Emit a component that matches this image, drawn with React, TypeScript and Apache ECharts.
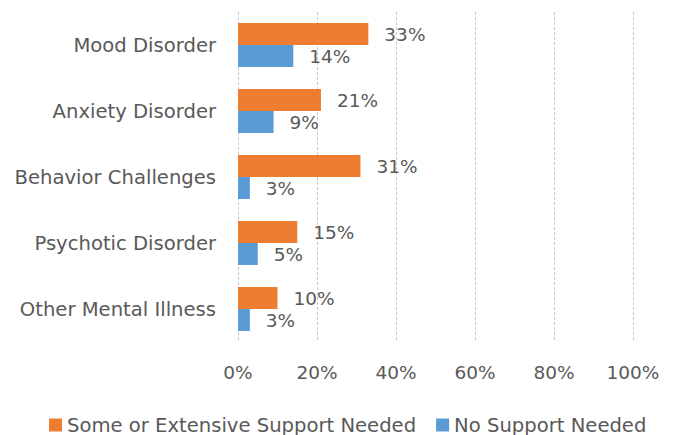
import React, { useEffect, useRef } from "react";
import * as echarts from "echarts";

const categories = ["Mood Disorder", "Anxiety Disorder", "Behavior Challenges", "Psychotic Disorder", "Other Mental Illness"];
const someSupport = [33, 21, 31, 15, 10];
const noSupport = [14, 9, 3, 5, 3];
const seriesNames = ["Some or Extensive Support Needed", "No Support Needed"];
const xTicks = [0, 20, 40, 60, 80, 100];

const FONT = "DejaVu Sans";
const TEXT = "#595959";
const FS = 18.5;
const FS_TXT = 19.6;

export default function App() {
  const ref = useRef<HTMLDivElement>(null);
  useEffect(() => {
    if (!ref.current) return;
    const chart = echarts.init(ref.current, undefined, { renderer: "svg" });
    const label = {
      show: true,
      position: "right",
      distance: 16,
      formatter: (p: any) => p.value + "%",
      color: TEXT,
      fontFamily: FONT,
      fontSize: FS,
    };
    chart.setOption({
      animation: false,
      textStyle: { fontFamily: FONT, color: TEXT },
      grid: { left: 238, right: 45, top: 12, bottom: 93, containLabel: false },
      legend: {
        left: 49,
        top: 415,
        padding: 0,
        itemWidth: 13,
        itemHeight: 13,
        itemGap: 20,
        icon: "rect",
        textStyle: { color: TEXT, fontFamily: FONT, fontSize: FS_TXT },
        data: seriesNames,
      },
      xAxis: {
        type: "value",
        min: xTicks[0],
        max: xTicks[xTicks.length - 1],
        interval: 20,
        axisLine: { show: false },
        axisTick: { show: false },
        axisLabel: { formatter: "{value}%", color: TEXT, fontFamily: FONT, fontSize: FS, margin: 21 },
        splitLine: { show: true, lineStyle: { color: "#c8c8c8", type: [3, 2], width: 1 } },
      },
      yAxis: {
        type: "category",
        data: categories,
        inverse: true,
        axisLine: { show: false },
        axisTick: { show: false },
        axisLabel: { color: TEXT, fontFamily: FONT, fontSize: FS_TXT, margin: 22 },
        splitLine: { show: false },
      },
      series: [
        {
          name: seriesNames[0],
          type: "bar",
          data: someSupport,
          itemStyle: { color: "#ED7D31" },
          barWidth: 22,
          barGap: "0%",
          barCategoryGap: "33%",
          label,
        },
        {
          name: seriesNames[1],
          type: "bar",
          data: noSupport,
          itemStyle: { color: "#5B9BD5" },
          barWidth: 22,
          barGap: "0%",
          label,
        },
      ],
    });
    return () => chart.dispose();
  }, []);
  return <div ref={ref} style={{ position: "fixed", left: 0, top: 0, width: 678, height: 435, background: "#fff" }} />;
}
